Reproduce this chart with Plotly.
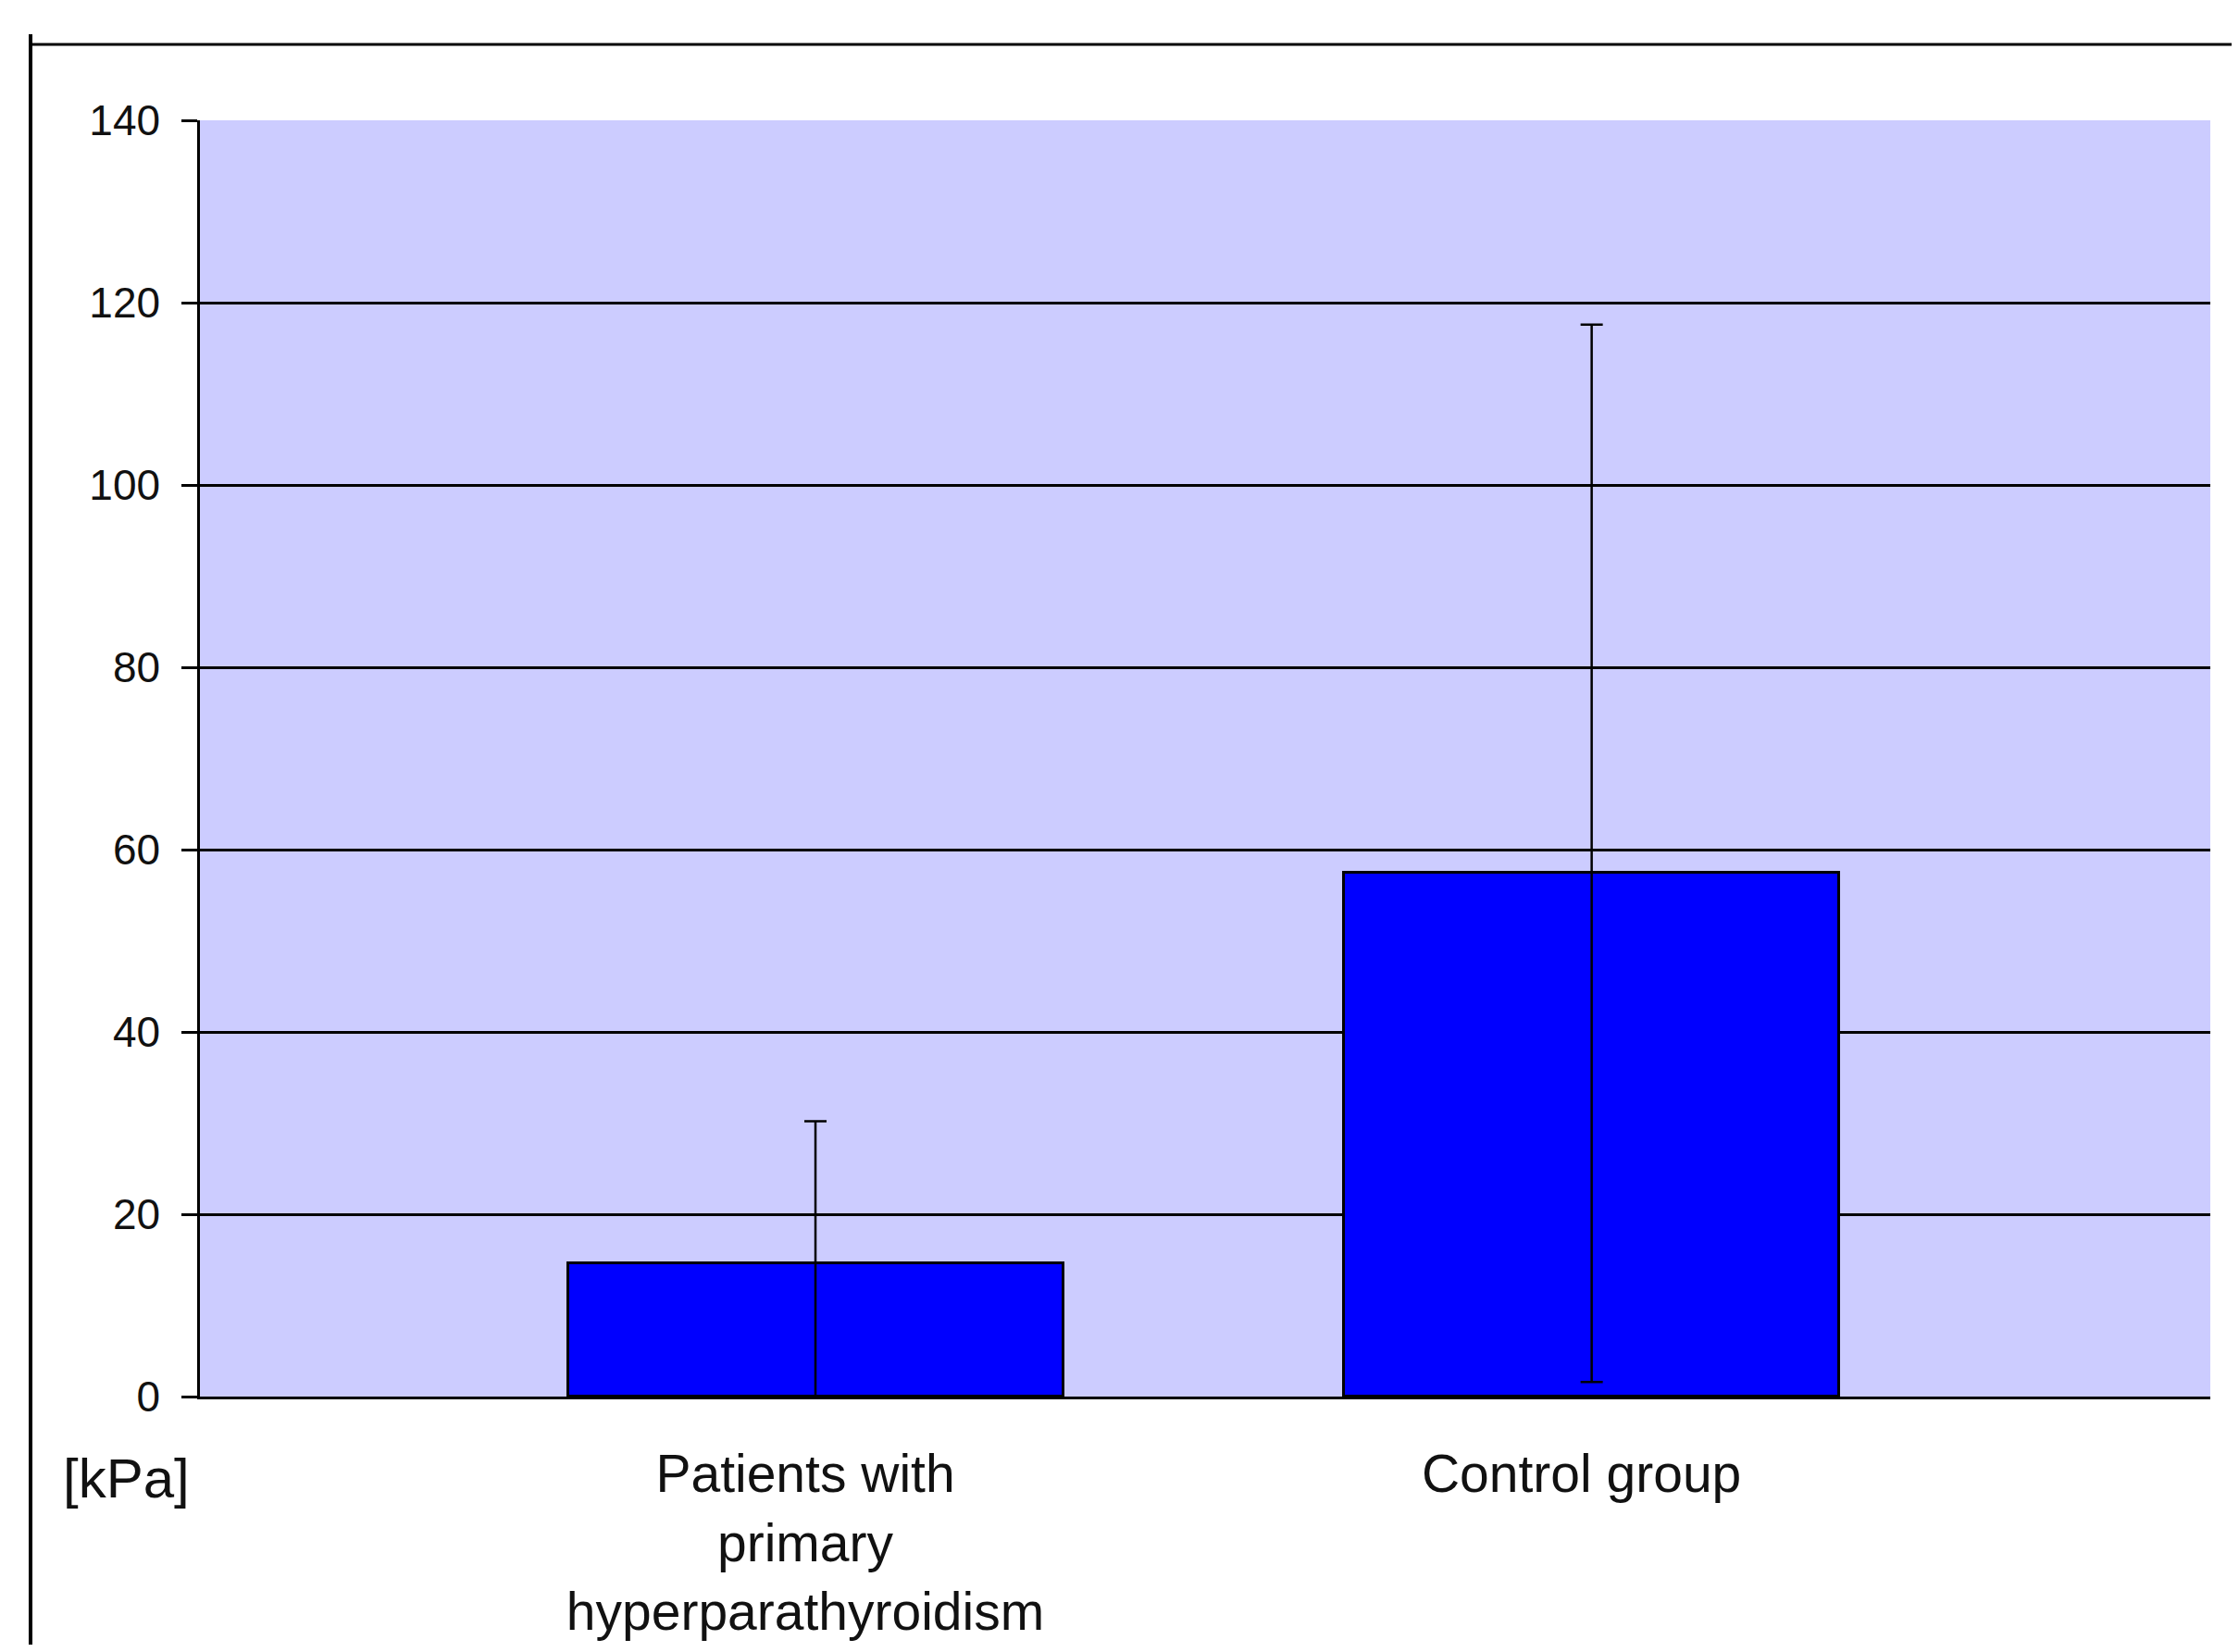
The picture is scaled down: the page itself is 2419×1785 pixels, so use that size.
import plotly.graph_objects as go

categories = ["Patients with<br>primary<br>hyperparathyroidism", "Control group"]
means = [14.6, 57.5]
err_plus = [15.6, 60.1]
err_minus = [14.6, 55.9]
y_ticks = [0, 20, 40, 60, 80, 100, 120, 140]
unit_label = "[kPa]"

# page body has an 8px margin; figure origin sits at (8, 8) of the window
OFF = 8
W, H = 2419 - 2 * OFF, 1785 - 2 * OFF
ML, MR, MT = 216 - OFF, 23, 130 - OFF
PLOT_H = 1379
MB = H - MT - PLOT_H
PW, PH = W - ML - MR, PLOT_H

def px(x):  # window pixel -> paper
    return (x - OFF - ML) / PW

def py(y):
    return (MT + PH - (y - OFF)) / PH

FONT = "Liberation Sans, Arial, sans-serif"

fig = go.Figure()
fig.add_trace(go.Bar(
    x=categories, y=means, width=0.638,
    marker=dict(color="#0000FF", line=dict(color="black", width=3)),
    error_y=dict(type="data", symmetric=False, array=err_plus, arrayminus=err_minus,
                 color="black", thickness=2.5, width=12),
    showlegend=False,
))

fig.update_layout(
    width=W, height=H,
    margin=dict(l=ML, r=MR, t=MT, b=MB, autoexpand=False),
    paper_bgcolor="white", plot_bgcolor="#CCCCFF",
    font=dict(family=FONT, color="black"),
    bargap=0,
    xaxis=dict(
        type="category", range=[-0.793, 1.797], automargin=False,
        showline=True, linecolor="black", linewidth=3,
        ticks="", showgrid=False,
        tickfont=dict(size=57, family=FONT, color="#111111"),
        ticklabelstandoff=32, ticklabelshift=-11,
    ),
    yaxis=dict(
        range=[0, 140], tickvals=y_ticks, automargin=False,
        showline=True, linecolor="black", linewidth=2.5,
        ticks="outside", ticklen=17, tickwidth=2.5, tickcolor="black",
        showgrid=True, gridcolor="black", gridwidth=2.5,
        zeroline=False,
        tickfont=dict(size=46, family=FONT, color="#111111"),
        ticklabelstandoff=14,
    ),
    shapes=[
        dict(type="line", xref="paper", yref="paper",
             x0=px(33), x1=px(2419), y0=py(48), y1=py(48),
             line=dict(color="black", width=3)),
        dict(type="line", xref="paper", yref="paper",
             x0=px(33), x1=px(33), y0=py(37), y1=py(OFF + H),
             line=dict(color="black", width=4)),
    ],
    annotations=[
        dict(text=unit_label, xref="paper", yref="paper",
             x=px(136), y=py(1597), xanchor="center", yanchor="middle",
             showarrow=False, font=dict(size=60, family=FONT, color="#111111")),
    ],
)

fig.write_html("out.html")
